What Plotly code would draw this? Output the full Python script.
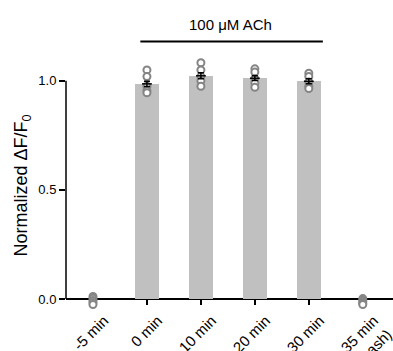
import plotly.graph_objects as go

categories = ["-5 min", "0 min", "10 min", "20 min", "30 min", "35 min<br>(wash)"]
bar_means = [0.0, 0.986, 1.023, 1.012, 0.998, 0.0]
sem = [None, 0.012, 0.014, 0.011, 0.012, None]
points = [
    [0.012, 0.003, -0.007, -0.016, -0.025],
    [1.05, 1.02, 0.975, 0.955, 0.945],
    [1.083, 1.05, 1.02, 1.0, 0.975],
    [1.055, 1.04, 1.01, 0.99, 0.97],
    [1.035, 1.02, 0.995, 0.975, 0.965],
    [0.002, -0.006, -0.013, -0.02, -0.025],
]
ticked = [1, 2, 3, 4]
bracket_label = "100 μM ACh"
bracket_from, bracket_to, bracket_level, label_level = 0.85, 4.26, 1.18, 1.26
y_axis_top = 1.0
y_range = [-0.0275, 1.1]
x_range = [-0.5, 5.56]

idx = list(range(len(categories)))
font = "Liberation Sans, Arial, sans-serif"
span = y_range[1] - y_range[0]


def to_paper(v):
    return (v - y_range[0]) / span


fig = go.Figure()
fig.add_trace(go.Bar(x=idx, y=bar_means, width=0.44, marker=dict(color="#c0c0c0", line=dict(width=0)),
                     showlegend=False))
px, py = [], []
for i, pts in enumerate(points):
    px += [i] * len(pts)
    py += pts
fig.add_trace(go.Scatter(x=px, y=py, mode="markers", cliponaxis=False, showlegend=False,
                         marker=dict(symbol="circle", size=7, color="white",
                                     line=dict(color="#858585", width=2))))
ei = [i for i in idx if sem[i] is not None]
fig.add_trace(go.Scatter(x=ei, y=[bar_means[i] for i in ei], mode="markers", cliponaxis=False, showlegend=False,
                         marker=dict(symbol="line-ew-open", size=7, color="black", line=dict(color="black", width=1.5)),
                         error_y=dict(type="data", array=[sem[i] for i in ei], color="black", thickness=1.5, width=3)))

# y-axis line from 0 to 1.0 only (paper coordinates, unclipped)
fig.add_shape(type="line", xref="paper", yref="paper", x0=0, x1=0,
              y0=to_paper(0), y1=to_paper(y_axis_top), line=dict(color="black", width=1.5), layer="above")
# bracket over the ACh conditions
fig.add_annotation(x=bracket_to, y=to_paper(bracket_level), xref="x", yref="paper",
                   ax=bracket_from, ay=0, axref="x", ayref="pixel", text="",
                   showarrow=True, arrowhead=0, arrowwidth=2, arrowcolor="black", standoff=0, startstandoff=0)
fig.add_annotation(x=(bracket_from + bracket_to) / 2, y=to_paper(label_level), xref="x", yref="paper",
                   xanchor="center", yanchor="middle",
                   text=bracket_label, showarrow=False, font=dict(size=15, color="black", family=font))
fig.add_annotation(x=-43 / 327, y=0.52, xref="paper", yref="y", text="Normalized ΔF/F<sub>0</sub>",
                   xanchor="center", yanchor="middle",
                   textangle=-90, showarrow=False, font=dict(size=18, color="black", family=font))

fig.update_layout(
    width=393, height=351, margin=dict(l=66, r=0, t=59, b=46),
    plot_bgcolor="white", paper_bgcolor="white", bargap=0,
    font=dict(family=font, color="black"),
    xaxis=dict(range=x_range, tickvals=idx, ticktext=categories, tickangle=-45, ticks="",
               ticklabelshift=11, ticklabelstandoff=3, ticklabeloverflow="allow",
               minor=dict(tickmode="array", tickvals=ticked, ticks="inside", ticklen=6, tickwidth=1.5,
                          tickcolor="black", showgrid=False),
               showline=False, showgrid=False, zeroline=False, automargin=False,
               tickfont=dict(size=15, color="black")),
    yaxis=dict(range=y_range, tickvals=[0, 0.5, 1.0], ticktext=["0.0", "0.5", "1.0"], ticks="outside",
               ticklen=6, tickwidth=1.5, tickcolor="black", showline=False,
               automargin=False,
               showgrid=False, zeroline=True, zerolinecolor="black", zerolinewidth=1.5,
               tickfont=dict(size=13, color="black")),
)
fig.write_html("out.html", config={"displayModeBar": False},
               post_script="document.body.style.margin='0';document.body.style.overflow='hidden';")
